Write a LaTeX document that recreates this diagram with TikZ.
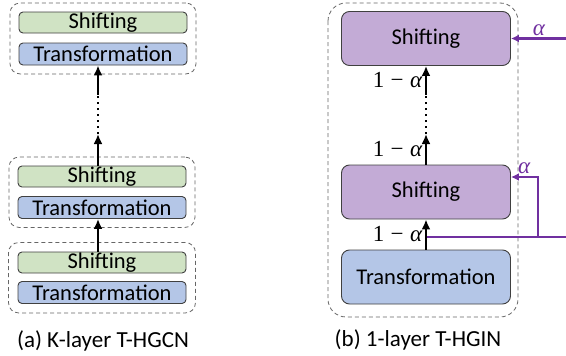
\RequirePackage{fix-cm}
\documentclass[tikz,border=0pt]{standalone}
\usepackage{fontspec}
\setmainfont{Carlito}
\newfontfamily\weightfont{Liberation Serif}
\usetikzlibrary{arrows.meta, positioning, fit}
\definecolor{shiftgreen}{RGB}{208,227,196}
\definecolor{transblue}{RGB}{180,198,231}
\definecolor{shiftpurple}{RGB}{195,171,214}
\definecolor{mixpurple}{RGB}{112,48,160}
\newcommand{\oneminus}{1\hspace{0.28em}−\hspace{0.28em}\textit{α}}
\tikzset{
  layerbox/.style = {draw=black!75, line width=0.9pt, rounded corners=4pt, minimum width=168pt,
    inner sep=0pt, font=\fontsize{22.5}{26}\selectfont},
  shiftbox/.style = {layerbox, fill=shiftgreen, minimum height=21pt},
  transbox/.style = {layerbox, fill=transblue, minimum height=22pt},
  bigbox/.style = {layerbox, rounded corners=8pt, minimum width=169pt, minimum height=54pt},
  group/.style = {draw=black!60, dash pattern=on 4pt off 3pt, line width=0.8pt, rounded corners=10pt},
  flow/.style = {-{Latex[length=10pt, width=9pt]}, line width=2.8pt},
  dotline/.style = {dash pattern=on 2.5pt off 3.5pt, line width=2.2pt},
  mixline/.style = {draw=mixpurple, line width=2.2pt},
  mixarrow/.style = {mixline, -{Latex[length=8pt, width=8pt]}},
  weight/.style = {font=\weightfont\fontsize{23}{27}\selectfont, inner sep=2pt},
  caption/.style = {font=\fontsize{23}{27}\selectfont}
}

\begin{document}
\begin{tikzpicture}[x=1pt, y=-1pt]

  \useasboundingbox (0,0) rectangle (566,356);

  %% (a) K-layer T-HGCN

  % Layers
  \node[shiftbox] (shiftA) at (103,22.5) {Shifting};
  \node[transbox] (transA) at (103,54) {Transformation};
  \node[shiftbox] (shiftB) at (102,176.5) {Shifting};
  \node[transbox] (transB) at (102,207.5) {Transformation};
  \node[shiftbox] (shiftC) at (102,262.5) {Shifting};
  \node[transbox] (transC) at (102,292.5) {Transformation};

  % Layer groups
  \node[group, fit=(shiftA)(transA), inner sep=8.5pt] (layerA) {};
  \node[group, fit=(shiftB)(transB), inner sep=8.5pt] (layerB) {};
  \node[group, fit=(shiftC)(transC), inner sep=9pt] (layerC) {};

  % Flow between layers
  \coordinate (dotlowA) at (98,134);
  \coordinate (dothighA) at (98,95);
  \draw[flow] ([xshift=-4pt]shiftC.north) -- ([xshift=-4pt]transB.south);
  \draw[flow] ([xshift=-4pt]shiftB.north) -- (dotlowA);
  \draw[dotline] (dotlowA) -- (dothighA);
  \draw[flow] (dothighA) -- ([xshift=-5pt]transA.south);

  \node[caption] (capA) at (103,341) {(a) K-layer T-HGCN};

  %% (b) 1-layer T-HGIN

  % Layers
  \node[bigbox, fill=shiftpurple] (shiftT) at (426,38.5) {Shifting};
  \node[bigbox, fill=shiftpurple] (shiftM) at (426,192) {Shifting};
  \node[bigbox, fill=transblue] (transR) at (426,277) {Transformation};

  \draw[group, rounded corners=18pt] (328,3) rectangle (518,317);

  % Flow
  \coordinate (dotlowB) at (426,134);
  \coordinate (dothighB) at (426,95);
  \draw[flow] (transR.north) -- node[weight, left] (wLow) {\oneminus} (shiftM.south);
  \draw[flow] (shiftM.north) -- node[weight, left] (wMid) {\oneminus} (dotlowB);
  \draw[dotline] (dotlowB) -- (dothighB);
  \draw[flow] (dothighB) -- node[weight, left] (wTop) {\oneminus} (shiftT.south);

  % Skip connections
  \coordinate (tap) at (427,237);
  \coordinate (branch) at (538,237);
  \coordinate (rail) at (567,237);
  \coordinate (railtop) at (567,38.5);
  \draw[mixline] (tap) -- (rail);
  \draw[mixline] (rail) -- (railtop);
  \draw[mixarrow] (branch) |- node[pos=0.75, above, weight, text=mixpurple] (aMid) {\textit{α}}
    ([yshift=15pt]shiftM.east);
  \draw[mixarrow] (railtop) -- node[above, weight, text=mixpurple] (aTop) {\textit{α}} (shiftT.east);

  \node[caption] (capB) at (418,340) {(b) 1-layer T-HGIN};

\end{tikzpicture}
\end{document}
